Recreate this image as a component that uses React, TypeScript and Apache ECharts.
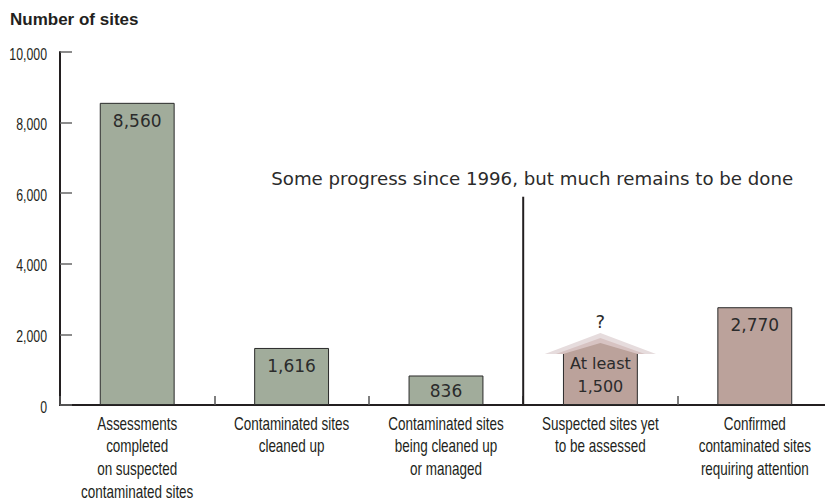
import React, { useEffect, useRef } from "react";
import * as echarts from "echarts";

const categories = [
  "Assessments\ncompleted\non suspected\ncontaminated sites",
  "Contaminated sites\ncleaned up",
  "Contaminated sites\nbeing cleaned up\nor managed",
  "Suspected sites yet\nto be assessed",
  "Confirmed\ncontaminated sites\nrequiring attention",
];
const values = [8560, 1616, 836, 1500, 2770];
const valueLabels = ["8,560", "1,616", "836", "At least\n1,500", "2,770"];
const groups = ["done", "done", "done", "todo", "todo"];
const uncertainIndex = 3;
const yTicks = [0, 2000, 4000, 6000, 8000, 10000];
const yTickLabels = ["0", "2,000", "4,000", "6,000", "8,000", "10,000"];
const annotationText = "Some progress since 1996, but much remains to be done";
const dividerTop = 5900;

const GREEN = "#a1ac9b";
const PINK = "#bba29b";
const NARROW = '"Liberation Sans", Arial, sans-serif';
const WIDE = '"DejaVu Sans", sans-serif';
const TEXT = "#231f20";

export default function App() {
  const ref = useRef<HTMLDivElement>(null);
  useEffect(() => {
    if (!ref.current) return;
    const chart = echarts.init(ref.current, null, { renderer: "svg" });
    const option: any = {
      animation: false,
      title: {
        text: "Number of sites",
        left: 10,
        top: 11,
        padding: 0,
        textStyle: { fontSize: 17, fontWeight: "bold", color: TEXT, fontFamily: '"Liberation Sans", Arial, sans-serif' },
      },
      grid: { left: 60, top: 52, bottom: 95, width: 772, outerBoundsMode: "none", containLabel: false },
      xAxis: {
        type: "category",
        data: categories,
        axisLine: { show: true, lineStyle: { color: TEXT, width: 2 } },
        axisTick: { show: true, inside: true, length: 9, lineStyle: { color: "#555", width: 1.5 } },
        axisLabel: { show: false },
      },
      yAxis: {
        type: "value",
        min: yTicks[0],
        max: yTicks[yTicks.length - 1],
        interval: 2000,
        axisLine: { show: true, lineStyle: { color: TEXT, width: 2 } },
        axisTick: { show: true, inside: true, length: 12, lineStyle: { color: "#666", width: 1.5 } },
        splitLine: { show: false },
        axisLabel: { show: false },
      },
      series: [
        {
          type: "bar",
          barWidth: "48.5%",
          z: 2,
          data: values.map((v, i) => ({
            value: v,
            itemStyle: {
              color: groups[i] === "done" ? GREEN : PINK,
              borderColor: "#2a2a2a",
              borderWidth: 1,
            },
            label: {
              show: true,
              position: "insideTop",
              distance: i === uncertainIndex ? 0 : v < 1000 ? 6 : 8,
              formatter: valueLabels[i],
              fontSize: i === uncertainIndex ? 16 : 17,
              lineHeight: i === uncertainIndex ? 23 : 20,
              color: "#2b2b2b",
              fontFamily: WIDE,
            },
          })),
        },
        {
          type: "custom",
          z: 5,
          data: [[uncertainIndex, values[uncertainIndex]]],
          renderItem: (params: any, api: any) => {
            const p = api.coord([api.value(0), api.value(1)]);
            const bw = api.size([1, 0])[0];
            const x = p[0];
            const y = p[1] + 2;
            const hw = bw * 0.36;
            const barHw = bw * 0.2425;
            return {
              type: "group",
              children: [
                {
                  type: "polygon",
                  shape: { points: [[x - hw, y], [x, y - 21], [x + hw, y]] },
                  style: { fill: "#e6dcdd" },
                },
                {
                  type: "polygon",
                  shape: { points: [[x - hw * 0.8, y], [x, y - 16], [x + hw * 0.8, y]] },
                  style: { fill: "#d7c3c2" },
                },
                {
                  type: "polygon",
                  shape: { points: [[x - barHw, y], [x, y - 11], [x + barHw, y]] },
                  style: { fill: PINK },
                },
                {
                  type: "text",
                  style: {
                    x: x,
                    y: y - 33,
                    text: "?",
                    fill: "#2b2b2b",
                    fontSize: 18,
                    fontFamily: WIDE,
                    textAlign: "center",
                    textVerticalAlign: "middle",
                  },
                },
              ],
            };
          },
        },
      ],
    };
    chart.setOption(option);
    const x2 = chart.convertToPixel({ xAxisIndex: 0 }, 2) as number;
    const x3 = chart.convertToPixel({ xAxisIndex: 0 }, 3) as number;
    const xm = (x2 + x3) / 2;
    const yTop = chart.convertToPixel({ yAxisIndex: 0 }, dividerTop) as number;
    const y0 = chart.convertToPixel({ yAxisIndex: 0 }, 0) as number;

    const xLabels = categories.map((c, i) => ({
      type: "text",
      x: chart.convertToPixel({ xAxisIndex: 0 }, i) as number,
      y: y0 + 7,
      scaleX: 0.77,
      style: {
        x: 0,
        y: 0,
        text: c,
        fontSize: 17.5,
        lineHeight: 22.7,
        fontFamily: NARROW,
        fill: TEXT,
        textAlign: "center",
        textVerticalAlign: "top",
      },
    }));
    const yLabels = yTicks.map((t, i) => ({
      type: "text",
      x: 47,
      y: (chart.convertToPixel({ yAxisIndex: 0 }, t) as number) + 2,
      scaleX: 0.77,
      style: {
        x: 0,
        y: 0,
        text: yTickLabels[i],
        fontSize: 16,
        fontFamily: NARROW,
        fill: TEXT,
        textAlign: "right",
        textVerticalAlign: "middle",
      },
    }));

    chart.setOption({
      graphic: [
        ...xLabels,
        ...yLabels,
        {
          type: "line",
          shape: { x1: xm, y1: yTop, x2: xm, y2: y0 },
          style: { stroke: TEXT, lineWidth: 2 },
          z: 10,
        },
        {
          type: "text",
          x: xm + 9,
          y: yTop - 18,
          style: {
            text: annotationText,
            fontSize: 18.2,
            fontFamily: WIDE,
            fill: "#2b2b2b",
            textAlign: "center",
            textVerticalAlign: "middle",
          },
          z: 10,
        },
      ],
    });
    return () => chart.dispose();
  }, []);
  return <div ref={ref} style={{ width: 825, height: 500, position: "absolute", left: 0, top: 0 }} />;
}
